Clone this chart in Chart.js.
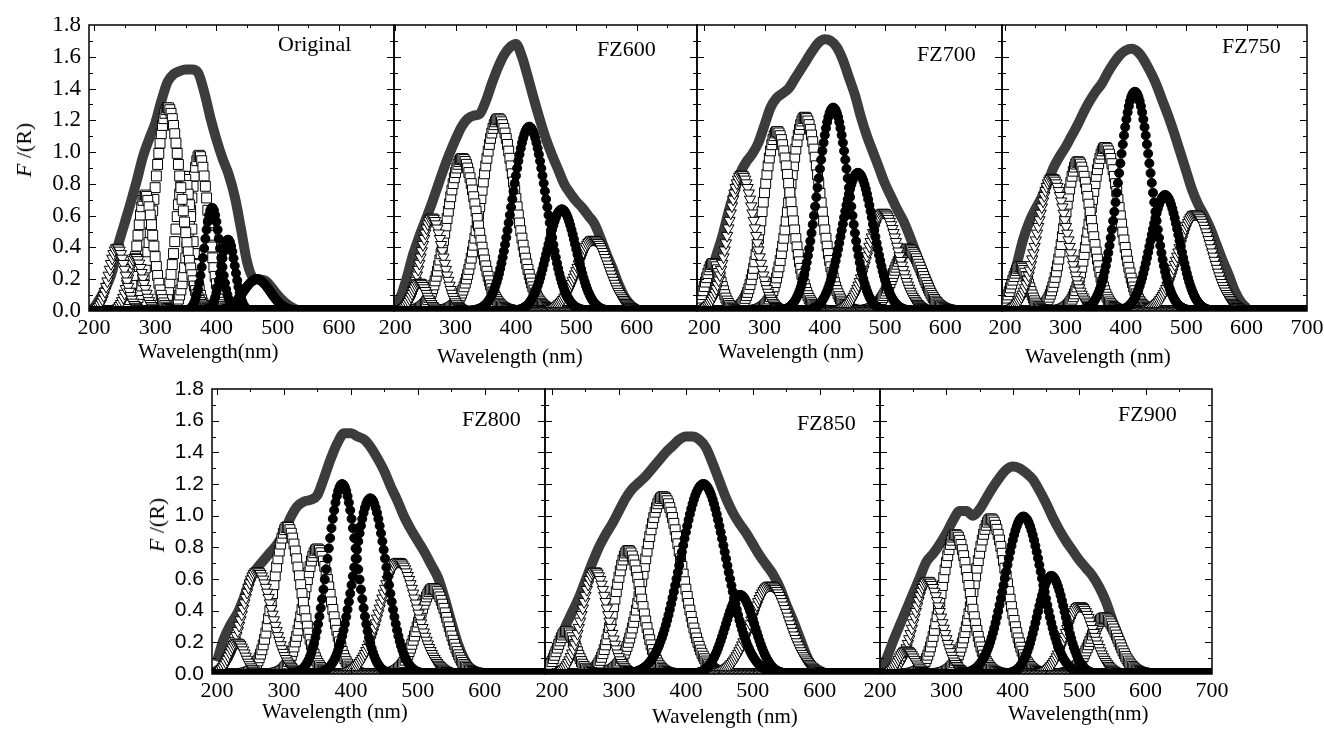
<!DOCTYPE html>
<html>
<head>
<meta charset="utf-8">
<script src="https://cdn.jsdelivr.net/npm/chart.js@4.4.0/dist/chart.umd.min.js"></script>
<style>
body{margin:0;background:#fff;width:1324px;height:731px;position:relative;overflow:hidden;font-family:"Liberation Serif","Times New Roman",serif;color:#000}
canvas{position:absolute}
.txt{position:absolute;white-space:nowrap;line-height:1;font-size:21px}
.name{position:absolute;white-space:nowrap;line-height:1;font-size:22px}
.ylab{position:absolute;white-space:nowrap;line-height:1;font-size:22px;transform:translate(-50%,-50%) rotate(-90deg)}
</style>
</head>
<body>
<div id="stage"></div>

<div class="ylab" style="left:24px;top:150px"><i>F</i> /(R)</div>
<div class="ylab" style="left:157px;top:525px"><i>F</i> /(R)</div>

<div class="name" style="left:278px;top:33px">Original</div>
<div class="name" style="left:597px;top:38px">FZ600</div>
<div class="name" style="left:917px;top:43px">FZ700</div>
<div class="name" style="left:1222px;top:35px">FZ750</div>
<div class="name" style="left:462px;top:408px">FZ800</div>
<div class="name" style="left:797px;top:412px">FZ850</div>
<div class="name" style="left:1118px;top:403px">FZ900</div>

<div class="txt" style="left:138px;top:341px">Wavelength(nm)</div>
<div class="txt" style="left:437px;top:346px">Wavelength (nm)</div>
<div class="txt" style="left:718px;top:341px">Wavelength (nm)</div>
<div class="txt" style="left:1025px;top:346px">Wavelength (nm)</div>
<div class="txt" style="left:262px;top:701px">Wavelength (nm)</div>
<div class="txt" style="left:652px;top:706px">Wavelength (nm)</div>
<div class="txt" style="left:1008px;top:703px">Wavelength(nm)</div>

<script>
// tick labels
const xTicks = [200, 300, 400, 500, 600, 700];
const yTicks = [0, 0.2, 0.4, 0.6, 0.8, 1.0, 1.2, 1.4, 1.6, 1.8];

// wavelengths at which the outer (open circle) curve was read, nm
const envX = [200,210,220,230,240,250,260,270,280,290,300,310,320,330,340,350,360,370,380,390,
  400,410,420,430,440,450,460,470,480,490,500,510,520,530,540,550,560,570,580,590,600];

// Original
const origEnv = [0.02,0.08,0.15,0.25,0.42,0.55,0.68,0.82,0.97,1.08,1.18,1.32,1.44,1.49,1.51,1.52,1.52,1.50,1.38,1.22,
  1.08,0.96,0.86,0.72,0.52,0.31,0.21,0.20,0.19,0.15,0.10,0.06,0.03,0.01,0,0,0,0,0,0,0];
const origPeak   = [238, 268, 284, 321, 347, 372, 393, 419, 466];
const origHeight = [0.40, 0.34, 0.73, 1.28, 0.85, 0.98, 0.65, 0.45, 0.20];
const origWidth  = [13, 12, 13, 21, 13, 15, 13, 11.5, 22];
const origMark   = ['tri','tri','sq','sq','sq','sq','dot','dot','dot'];

// FZ600
const fz600Env = [0.02,0.10,0.22,0.36,0.47,0.57,0.67,0.78,0.89,0.99,1.08,1.16,1.21,1.23,1.24,1.32,1.43,1.53,1.61,1.66,
  1.68,1.60,1.47,1.33,1.20,1.08,0.98,0.89,0.80,0.74,0.69,0.65,0.60,0.55,0.46,0.36,0.27,0.17,0.09,0.04,0.01];
const fz600Peak   = [240, 261, 311, 371, 422, 476, 528];
const fz600Height = [0.18, 0.59, 0.96, 1.21, 1.16, 0.64, 0.45];
const fz600Width  = [12, 18, 25, 28, 28, 24, 26];
const fz600Mark   = ['tri','tri','sq','sq','dot','dot','tri'];

// FZ700
const fz700Env = [0.08,0.22,0.35,0.47,0.62,0.75,0.87,0.94,0.99,1.06,1.17,1.28,1.34,1.37,1.40,1.46,1.52,1.58,1.64,1.69,
  1.71,1.70,1.66,1.58,1.47,1.36,1.22,1.10,1.00,0.90,0.80,0.72,0.64,0.57,0.48,0.38,0.28,0.19,0.10,0.05,0.02];
const fz700Peak   = [215, 262, 321, 367, 414, 455, 497, 538];
const fz700Height = [0.30, 0.86, 1.13, 1.22, 1.28, 0.87, 0.62, 0.39];
const fz700Width  = [13, 22, 23, 25, 26, 26, 25, 24];
const fz700Mark   = ['sq','tri','sq','sq','dot','dot','tri','sq'];

// FZ750
const fz750Env = [0.05,0.15,0.30,0.45,0.56,0.64,0.71,0.80,0.90,0.97,1.03,1.10,1.17,1.25,1.32,1.38,1.43,1.50,1.56,1.61,
  1.64,1.65,1.63,1.58,1.51,1.43,1.33,1.23,1.12,1.00,0.88,0.76,0.67,0.60,0.52,0.42,0.32,0.23,0.13,0.06,0.02];
const fz750Peak   = [225, 278, 321, 366, 415, 465, 515];
const fz750Height = [0.28, 0.84, 0.94, 1.03, 1.38, 0.73, 0.61];
const fz750Width  = [14, 24, 22, 24, 27, 24, 28];
const fz750Mark   = ['sq','tri','sq','sq','dot','dot','tri'];

// FZ800
const fz800Env = [0.08,0.22,0.31,0.38,0.48,0.60,0.67,0.72,0.77,0.82,0.89,0.99,1.06,1.09,1.10,1.13,1.24,1.36,1.46,1.52,
  1.52,1.50,1.48,1.43,1.36,1.28,1.18,1.09,0.99,0.91,0.84,0.77,0.69,0.61,0.48,0.33,0.19,0.09,0.03,0.01,0];
const fz800Peak   = [230, 260, 305, 350, 387, 429, 471, 523];
const fz800Height = [0.20, 0.65, 0.93, 0.79, 1.20, 1.11, 0.71, 0.54];
const fz800Width  = [12, 22, 20, 20, 22, 24, 27, 22];
const fz800Mark   = ['tri','tri','sq','sq','dot','dot','tri','sq'];

// FZ850
const fz850Env = [0.10,0.20,0.30,0.39,0.48,0.59,0.70,0.80,0.88,0.95,1.03,1.11,1.17,1.21,1.25,1.30,1.35,1.40,1.44,1.48,
  1.50,1.50,1.48,1.43,1.33,1.22,1.11,1.02,0.95,0.89,0.82,0.75,0.69,0.63,0.55,0.44,0.34,0.23,0.12,0.04,0.01];
const fz850Peak   = [222, 264, 314, 366, 426, 481, 526];
const fz850Height = [0.27, 0.65, 0.78, 1.12, 1.20, 0.50, 0.56];
const fz850Width  = [14, 19, 20, 28, 34, 22, 28];
const fz850Mark   = ['sq','tri','sq','sq','dot','dot','tri'];

// FZ900
const fz900Env = [0.02,0.10,0.21,0.31,0.41,0.51,0.61,0.71,0.76,0.82,0.89,0.97,1.03,1.03,1.00,1.04,1.11,1.18,1.24,1.29,
  1.31,1.30,1.27,1.23,1.16,1.08,0.99,0.91,0.84,0.78,0.72,0.67,0.62,0.55,0.46,0.34,0.23,0.12,0.04,0.01,0];
const fz900Peak   = [240, 272, 314, 367, 416, 458, 501, 538];
const fz900Height = [0.15, 0.59, 0.88, 0.98, 0.995, 0.62, 0.43, 0.355];
const fz900Width  = [12, 20, 21, 24, 28, 21, 21, 21];
const fz900Mark   = ['tri','tri','sq','sq','dot','dot','tri','sq'];

// panel frames (px) and axis ranges
const panels = [
  {env: origEnv,  peak: origPeak,  h: origHeight,  w: origWidth,  mark: origMark,  x0: 89,   x1: 394,  y0: 23,  y1: 311, lo: 192,   hi: 690, last: 600, yLab: 'serif'},
  {env: fz600Env, peak: fz600Peak, h: fz600Height, w: fz600Width, mark: fz600Mark, x0: 394,  x1: 697,  y0: 23,  y1: 311, lo: 198,   hi: 700, last: 600},
  {env: fz700Env, peak: fz700Peak, h: fz700Height, w: fz700Width, mark: fz700Mark, x0: 697,  x1: 1002, y0: 23,  y1: 311, lo: 188,   hi: 694, last: 600},
  {env: fz750Env, peak: fz750Peak, h: fz750Height, w: fz750Width, mark: fz750Mark, x0: 1002, x1: 1307, y0: 23,  y1: 311, lo: 195,   hi: 700, last: 700},
  {env: fz800Env, peak: fz800Peak, h: fz800Height, w: fz800Width, mark: fz800Mark, x0: 212,  x1: 545,  y0: 387, y1: 674, lo: 192.5, hi: 690, last: 600, yLab: 'sans'},
  {env: fz850Env, peak: fz850Peak, h: fz850Height, w: fz850Width, mark: fz850Mark, x0: 545,  x1: 880,  y0: 387, y1: 674, lo: 189.5, hi: 690, last: 600},
  {env: fz900Env, peak: fz900Peak, h: fz900Height, w: fz900Width, mark: fz900Mark, x0: 880,  x1: 1212, y0: 387, y1: 674, lo: 200,   hi: 700, last: 700}
];

const markStyle = {
  sq:  {pointStyle: 'rect', pointRadius: 7, pointBackgroundColor: '#fff', pointBorderColor: '#000', pointBorderWidth: 1, order: 3},
  tri: {pointStyle: 'triangle', pointRotation: 180, pointRadius: 6.5, pointBackgroundColor: '#fff', pointBorderColor: '#000', pointBorderWidth: 1, order: 2},
  dot: {pointStyle: 'circle', pointRadius: 4.5, pointBackgroundColor: '#000', pointBorderColor: '#000', pointBorderWidth: 1, order: 1}
};

// one fitted band, sampled every 2 nm like the original plot markers
function bandPoints(c, h, w, lo, hi) {
  const pts = [];
  for (let x = Math.ceil(lo); x <= hi; x += 2) pts.push({x: x, y: h * Math.exp(-((x - c) * (x - c)) / (2 * w * w))});
  return pts;
}

// box + inward ticks on all four sides
const framePlugin = {
  id: 'frame',
  afterDatasetsDraw(chart) {
    const {ctx, chartArea: a, scales: {x, y}} = chart;
    ctx.save();
    ctx.strokeStyle = '#000';
    ctx.lineWidth = 1.5;
    ctx.strokeRect(a.left, a.top, a.right - a.left, a.bottom - a.top);
    ctx.lineWidth = 1;
    ctx.beginPath();
    for (let v = 200; v <= 700; v += 50) {
      const px = Math.round(x.getPixelForValue(v)) + 0.5;
      if (px <= a.left + 1 || px >= a.right - 1) continue;
      const len = v % 100 === 0 ? 6 : 3;
      ctx.moveTo(px, a.top); ctx.lineTo(px, a.top + len);
      ctx.moveTo(px, a.bottom); ctx.lineTo(px, a.bottom - len);
    }
    for (let i = 1; i < 18; i++) {
      const py = Math.round(y.getPixelForValue(i / 10)) + 0.5;
      const len = i % 2 === 0 ? 7 : 4;
      ctx.moveTo(a.left, py); ctx.lineTo(a.left + len, py);
      ctx.moveTo(a.right, py); ctx.lineTo(a.right - len, py);
    }
    ctx.stroke();
    ctx.restore();
  }
};

const stage = document.getElementById('stage');
panels.forEach(p => {
  const padL = p.yLab ? 70 : 24, padR = 24, padT = 6, padB = 40;
  const cv = document.createElement('canvas');
  const W = p.x1 - p.x0 + padL + padR, H = p.y1 - p.y0 + padT + padB;
  cv.width = W; cv.height = H;
  cv.style.left = (p.x0 - padL) + 'px';
  cv.style.top = (p.y0 - padT) + 'px';
  cv.style.width = W + 'px'; cv.style.height = H + 'px';
  stage.appendChild(cv);

  const datasets = [{
    data: envX.map((x, i) => ({x: x, y: p.env[i]})),
    showLine: true, borderColor: '#3c3c3c', borderWidth: 10, pointRadius: 0,
    cubicInterpolationMode: 'monotone', fill: false, order: 10
  }];
  p.peak.forEach((c, i) => {
    datasets.push(Object.assign({
      data: bandPoints(c, p.h[i], p.w[i], p.lo, p.hi),
      showLine: false
    }, markStyle[p.mark[i]]));
  });

  const yFont = p.yLab === 'sans'
    ? {family: '"Liberation Sans", Arial, sans-serif', size: 21}
    : {family: '"Liberation Serif", "Times New Roman", serif', size: 23};

  new Chart(cv, {
    type: 'line',
    data: {datasets},
    options: {
      responsive: false, animation: false, events: [],
      layout: {padding: {top: padT, right: padR, left: 0, bottom: 0}},
      plugins: {legend: {display: false}, tooltip: {enabled: false}},
      scales: {
        x: {
          type: 'linear', min: p.lo, max: p.hi,
          afterFit: s => { s.height = padB; s.paddingLeft = 0; s.paddingRight = 0; },
          afterBuildTicks: s => { s.ticks = xTicks.filter(v => v <= p.last).map(v => ({value: v})); },
          grid: {display: false, drawTicks: false}, border: {display: false},
          ticks: {padding: 4, color: '#000', maxRotation: 0, autoSkip: false,
            font: {family: '"Liberation Serif", "Times New Roman", serif', size: 22}}
        },
        y: {
          type: 'linear', min: 0, max: 1.8,
          afterFit: s => { s.width = padL; s.paddingTop = 0; s.paddingBottom = 0; },
          afterBuildTicks: s => { s.ticks = yTicks.map(v => ({value: v})); },
          grid: {display: false, drawTicks: false}, border: {display: false},
          ticks: {display: !!p.yLab, padding: 8, color: '#000', font: yFont,
            callback: v => Number(v).toFixed(1)}
        }
      }
    },
    plugins: [framePlugin]
  });
});
</script>
</body>
</html>
